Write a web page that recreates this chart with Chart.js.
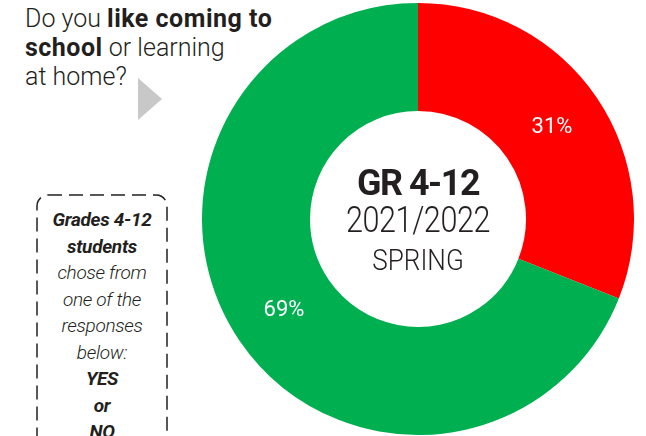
<!DOCTYPE html>
<html>
<head>
<meta charset="utf-8">
<script src="https://cdn.jsdelivr.net/npm/chart.js@4"></script>
<style>
  html, body { margin: 0; padding: 0; background: #fff; }
  body { width: 646px; height: 436px; position: relative; overflow: hidden; font-family: Roboto, "Liberation Sans", sans-serif; color: #231f20; }
  .title { position: absolute; left: 25px; top: 4px; font-size: 25px; line-height: 29px; font-weight: 300; letter-spacing: 0px; white-space: nowrap; }
  .title b { font-weight: 700; letter-spacing: 0.5px; }
  .arrow { position: absolute; left: 138px; top: 78px; width: 0; height: 0; border-top: 21px solid transparent; border-bottom: 21px solid transparent; border-left: 24px solid #c8c8c8; }
  .box { position: absolute; left: 36px; top: 194px; }
  .box-text { position: absolute; left: 37px; top: 207px; width: 130px; text-align: center; font-size: 19px; line-height: 26.5px; font-style: italic; font-weight: 300; letter-spacing: -0.3px; }
  .box-text b { font-weight: 700; }
  #wrap { position: absolute; left: 202px; top: 3px; width: 432px; height: 432px; }
  .center { position: absolute; left: 318px; width: 200px; text-align: center; transform-origin: 50% 50%; }
  .gr { top: 163px; font-size: 37px; font-weight: 700; letter-spacing: -1.5px; line-height: 40px; transform: scaleX(0.97); }
  .yr { top: 200px; font-size: 36px; font-weight: 300; letter-spacing: -0.5px; line-height: 40px; transform: scaleX(0.85); }
  .season { top: 243px; font-size: 30px; font-weight: 300; line-height: 34px; transform: scaleX(0.87); }
</style>
</head>
<body>
<div class="title">Do you <b>like coming to</b><br><b>school</b> or learning<br>at home?</div>
<div class="arrow"></div>
<svg class="box" width="134" height="260"><rect x="1" y="1" width="130" height="300" rx="11" ry="11" fill="none" stroke="#231f20" stroke-width="1.5" stroke-dasharray="14 7"/></svg>
<div class="box-text"><b>Grades 4-12<br>students</b><br>chose from<br>one of the<br>responses<br>below:<br><b>YES<br>or<br>NO</b></div>
<div id="wrap"><canvas id="chart"></canvas></div>
<div class="center gr">GR 4-12</div>
<div class="center yr">2021/2022</div>
<div class="center season">SPRING</div>
<script>
const categories = ['NO', 'YES'];
const values = [31, 69];
const colors = ['#ff0000', '#00b050'];

// percent labels drawn at each arc's middle
const sliceLabels = {
  id: 'sliceLabels',
  afterDatasetsDraw(chart) {
    const ctx = chart.ctx;
    const meta = chart.getDatasetMeta(0);
    ctx.save();
    ctx.fillStyle = '#fff';
    ctx.font = '400 22px Roboto';
    ctx.textAlign = 'center';
    ctx.textBaseline = 'middle';
    meta.data.forEach((arc, i) => {
      const p = arc.tooltipPosition();
      ctx.fillText(values[i] + '%', p.x, p.y);
    });
    ctx.restore();
  }
};

new Chart(document.getElementById('chart').getContext('2d'), {
  type: 'doughnut',
  data: {
    labels: categories,
    datasets: [{
      data: values,
      backgroundColor: colors,
      borderWidth: 0
    }]
  },
  options: {
    responsive: true,
    maintainAspectRatio: false,
    animation: false,
    cutout: '50%',
    layout: { padding: 0 },
    plugins: {
      legend: { display: false },
      tooltip: { enabled: false }
    }
  },
  plugins: [sliceLabels]
});
</script>
</body>
</html>
